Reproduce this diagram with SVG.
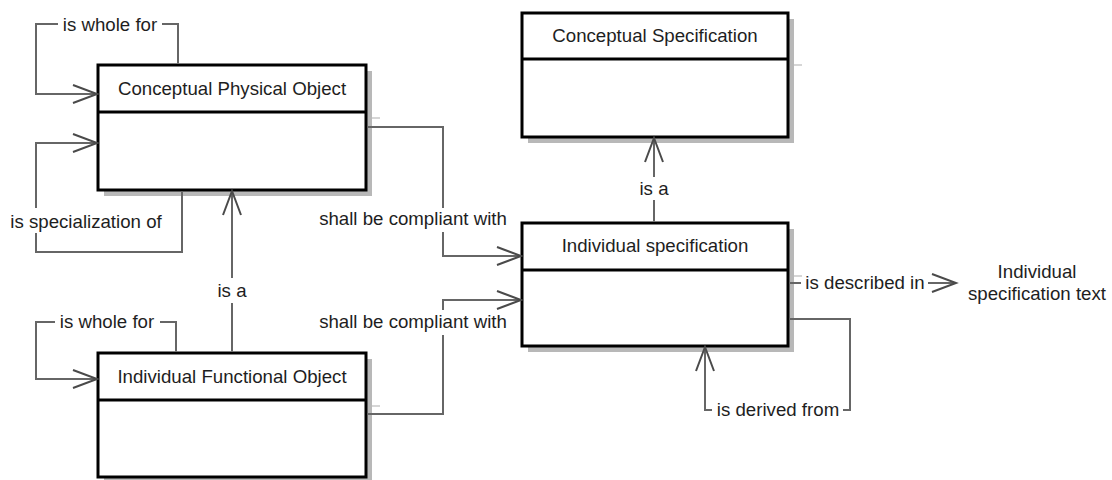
<svg xmlns="http://www.w3.org/2000/svg" width="1112" height="480" viewBox="0 0 1112 480">
<style>
text{font-family:"Liberation Sans",Arial,sans-serif;font-size:18.67px;fill:#1e1e1e}
.t{text-anchor:middle}
.box{fill:#fff;stroke:#000;stroke-width:3}
.div{stroke:#000;stroke-width:3}
.sh{fill:#b8b8b8}
.shl{stroke:#c8c8c8;stroke-width:1.5}
.c{fill:none;stroke:#666;stroke-width:2}
</style>
<defs>
<marker id="arr" markerUnits="userSpaceOnUse" markerWidth="30" markerHeight="24" viewBox="-3 -3 30 24" refX="24" refY="9" orient="auto">
<path d="M0,0 L24,9 L0,18" fill="none" stroke="#4a4a4a" stroke-width="2"/>
</marker>
</defs>
<g id="node-cpo">
<rect class="sh" x="104" y="71" width="268" height="125"/>
<line class="shl" x1="372" y1="118" x2="380" y2="118"/>
<rect class="box" x="98" y="65" width="268" height="125"/>
<line class="div" x1="98" y1="112" x2="366" y2="112"/>
<text class="t" x="232" y="95">Conceptual Physical Object</text>
</g>
<g id="node-ifo">
<rect class="sh" x="104" y="359" width="268" height="124"/>
<line class="shl" x1="372" y1="406" x2="380" y2="406"/>
<rect class="box" x="98" y="353" width="268" height="124"/>
<line class="div" x1="98" y1="400" x2="366" y2="400"/>
<text class="t" x="232" y="383">Individual Functional Object</text>
</g>
<g id="node-cs">
<rect class="sh" x="528" y="19" width="266" height="124"/>
<line class="shl" x1="794" y1="65" x2="802" y2="65"/>
<rect class="box" x="522" y="13" width="266" height="124"/>
<line class="div" x1="522" y1="59" x2="788" y2="59"/>
<text class="t" x="655" y="42">Conceptual Specification</text>
</g>
<g id="node-is">
<rect class="sh" x="528" y="229" width="266" height="123"/>
<line class="shl" x1="794" y1="276" x2="802" y2="276"/>
<rect class="box" x="522" y="223" width="266" height="123"/>
<line class="div" x1="522" y1="270" x2="788" y2="270"/>
<text class="t" x="655" y="252">Individual specification</text>
</g>
<g id="node-ist">
<text class="t" x="1037" y="278">Individual</text>
<text class="t" x="1037" y="300">specification text</text>
</g>
<g id="connectors">
<path class="c" d="M178,63.5 V24 H162 M58,24 H36 V94 H97" marker-end="url(#arr)"/>
<text class="t" x="110" y="31">is whole for</text>
<path class="c" d="M182,191.5 V252 H36 V233 M36,208 V143 H97" marker-end="url(#arr)"/>
<text class="t" x="86" y="228">is specialization of</text>
<path class="c" d="M176,351.5 V322 H160 M55,322 H36 V379 H97" marker-end="url(#arr)"/>
<text class="t" x="107" y="328">is whole for</text>
<path class="c" d="M232,351.5 V303 M232,278 V191" marker-end="url(#arr)"/>
<text class="t" x="232" y="297">is a</text>
<path class="c" d="M367.5,127 H443 V208 M443,232 V256 H521" marker-end="url(#arr)"/>
<text class="t" x="413" y="225">shall be compliant with</text>
<path class="c" d="M367.5,414 H443 V335 M443,310 V300 H521" marker-end="url(#arr)"/>
<text class="t" x="413" y="328">shall be compliant with</text>
<path class="c" d="M654,221.5 V200 M654,177 V138" marker-end="url(#arr)"/>
<text class="t" x="654" y="195">is a</text>
<path class="c" d="M789.5,283 H801 M928,283 H956" marker-end="url(#arr)"/>
<text class="t" x="865" y="289">is described in</text>
<path class="c" d="M789.5,319 H850 V410 H843 M712,410 H705 V347" marker-end="url(#arr)"/>
<text class="t" x="778" y="416">is derived from</text>
</g>
</svg>
